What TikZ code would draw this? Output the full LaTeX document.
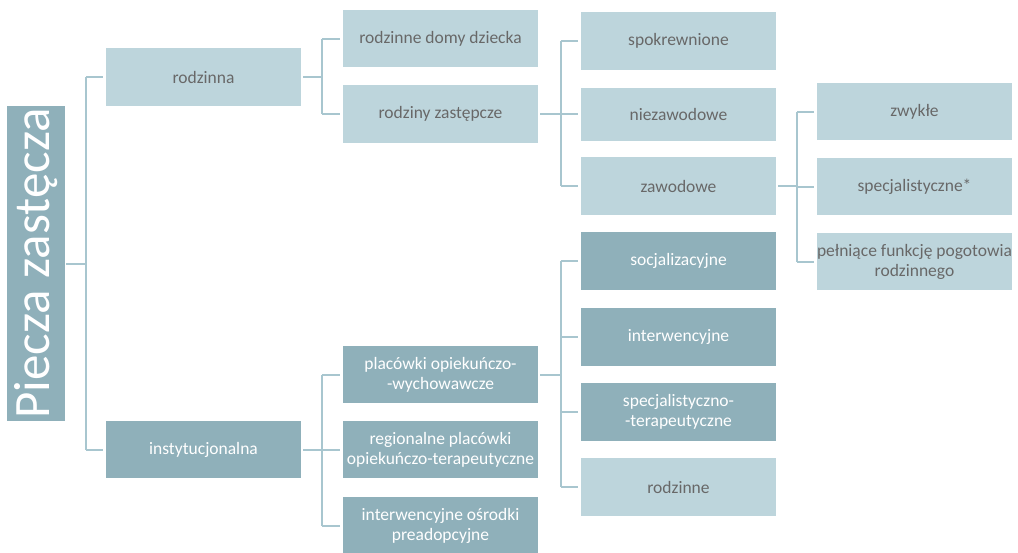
\documentclass[tikz,border=0pt]{standalone}
\usepackage{fontspec}
\setmainfont{Carlito}
\definecolor{lightbox}{RGB}{189,213,220}
\definecolor{darkbox}{RGB}{143,176,186}
\definecolor{textgrey}{RGB}{104,104,104}
\definecolor{linec}{RGB}{168,198,207}
\begin{document}
\begin{tikzpicture}[x=1pt,y=-1pt,
  box/.style={rectangle, minimum width=195pt, minimum height=57pt, inner sep=0pt, align=center, font=\fontsize{17.5}{20}\selectfont},
  lbox/.style={box, fill=lightbox, text=textgrey},
  dbox/.style={box, fill=darkbox, text=white},
  conn/.style={draw=linec, line width=2pt}]
\useasboundingbox (0,0) rectangle (1018,552);
% title
\node[rectangle, fill=darkbox, text=white, rotate=90, minimum width=315pt, minimum height=58pt, inner sep=0pt, font=\fontsize{51}{53}\selectfont] (title) at (36,263.5) {Piecza zastęcza};
% level 1
\node[lbox, minimum height=58pt] (rodz) at (203.5,77) {rodzinna};
\node[dbox] (inst) at (203.5,449.5) {instytucjonalna};
% level 2
\node[lbox] (rdd) at (440.5,38.5) {rodzinne domy dziecka};
\node[lbox, minimum height=58pt] (rz) at (440.5,114) {rodziny zastępcze};
\node[dbox] (plac) at (440.5,374.5) {placówki opiekuńczo-\\-wychowawcze};
\node[dbox] (reg) at (440.5,449.5) {regionalne placówki\\opiekuńczo-terapeutyczne};
\node[dbox] (ios) at (440.5,525.5) {interwencyjne ośrodki\\preadopcyjne};
% level 3
\node[lbox, minimum height=58pt] (spok) at (678.5,41) {spokrewnione};
\node[lbox, minimum height=53pt] (niez) at (678.5,114) {niezawodowe};
\node[lbox, minimum height=58pt] (zaw) at (678.5,186) {zawodowe};
\node[dbox, minimum height=58pt] (soc) at (678.5,261) {socjalizacyjne};
\node[dbox, minimum height=58pt] (interw) at (678.5,337) {interwencyjne};
\node[dbox, minimum height=58pt] (spec) at (678.5,412) {specjalistyczno-\\-terapeutyczne};
\node[lbox, minimum height=58pt] (rodzinne) at (678.5,487) {rodzinne};
% level 4
\node[lbox] (zwyk) at (914.5,111.5) {zwykłe};
\node[lbox] (specj) at (914.5,186.5) {specjalistyczne*};
\node[lbox] (peln) at (914.5,261.5) {pełniące funkcję pogotowia\\rodzinnego};
% bus coordinates
\coordinate (b0) at (86,0);
\coordinate (b1) at (322,0);
\coordinate (b2) at (561,0);
\coordinate (b3) at (797,0);
% title -> level 1
\draw[conn] ([xshift=1pt]title.south) -- (title.south -| b0);
\draw[conn] (rodz.west -| b0) -- (inst.west -| b0);
\draw[conn] (rodz.west -| b0) -- ([xshift=-3pt]rodz.west);
\draw[conn] (inst.west -| b0) -- ([xshift=-3pt]inst.west);
% rodzinna -> level 2
\draw[conn] ([xshift=2pt]rodz.east) -- (rodz.east -| b1);
\draw[conn] (rdd.west -| b1) -- (rz.west -| b1);
\draw[conn] (rdd.west -| b1) -- ([xshift=-3pt]rdd.west);
\draw[conn] (rz.west -| b1) -- ([xshift=-3pt]rz.west);
% instytucjonalna -> level 2
\draw[conn] ([xshift=2pt]inst.east) -- (inst.east -| b1);
\draw[conn] (plac.west -| b1) -- (ios.west -| b1);
\draw[conn] (plac.west -| b1) -- ([xshift=-3pt]plac.west);
\draw[conn] (reg.west -| b1) -- ([xshift=-3pt]reg.west);
\draw[conn] (ios.west -| b1) -- ([xshift=-3pt]ios.west);
% rodziny zastepcze -> level 3
\draw[conn] ([xshift=2pt]rz.east) -- (rz.east -| b2);
\draw[conn] (spok.west -| b2) -- (zaw.west -| b2);
\draw[conn] (spok.west -| b2) -- ([xshift=-3pt]spok.west);
\draw[conn] (niez.west -| b2) -- ([xshift=-3pt]niez.west);
\draw[conn] (zaw.west -| b2) -- ([xshift=-3pt]zaw.west);
% placowki -> level 3
\draw[conn] ([xshift=2pt]plac.east) -- (plac.east -| b2);
\draw[conn] (soc.west -| b2) -- (rodzinne.west -| b2);
\draw[conn] (soc.west -| b2) -- ([xshift=-3pt]soc.west);
\draw[conn] (interw.west -| b2) -- ([xshift=-3pt]interw.west);
\draw[conn] (spec.west -| b2) -- ([xshift=-3pt]spec.west);
\draw[conn] (rodzinne.west -| b2) -- ([xshift=-3pt]rodzinne.west);
% zawodowe -> level 4
\draw[conn] ([xshift=2pt]zaw.east) -- (zaw.east -| b3);
\draw[conn] (zwyk.west -| b3) -- (peln.west -| b3);
\draw[conn] (zwyk.west -| b3) -- ([xshift=-3pt]zwyk.west);
\draw[conn] (specj.west -| b3) -- ([xshift=-3pt]specj.west);
\draw[conn] (peln.west -| b3) -- ([xshift=-3pt]peln.west);
\end{tikzpicture}
\end{document}
